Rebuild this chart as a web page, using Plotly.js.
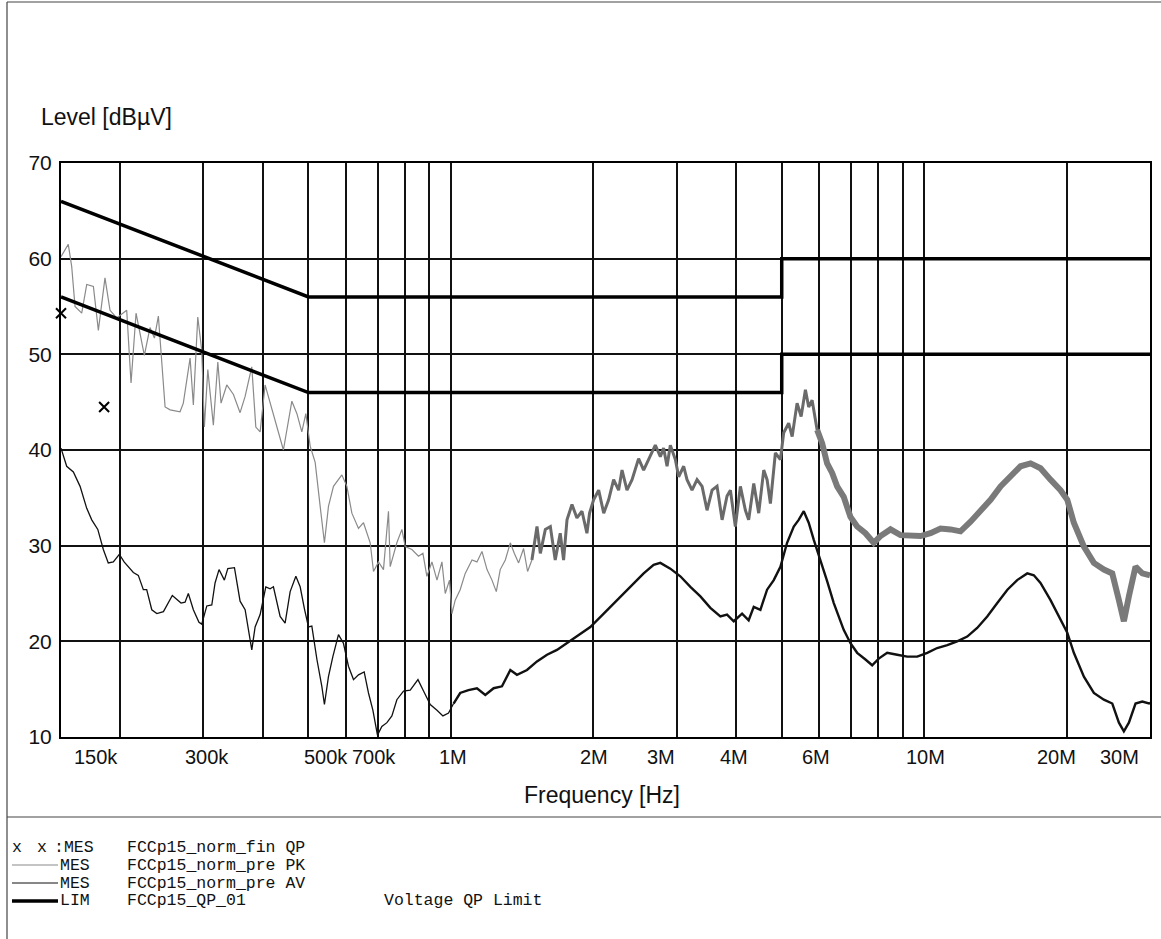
<!DOCTYPE html>
<html>
<head>
<meta charset="utf-8">
<script src="https://cdn.plot.ly/plotly-3.0.1.min.js"></script>
<style>
html,body{margin:0;padding:0;background:#fff;}
#chart{width:1161px;height:939px;}
</style>
</head>
<body>
<div id="chart"></div>
<script>
// ---- Data (frequency in MHz, level in dBµV) ----
const freqPK = [0.150,0.1554,0.1580,0.1606,0.1659,0.1700,0.1756,0.1799,0.1858,0.1904,
0.1967,0.2065,0.2109,0.2161,0.2250,0.2313,0.2363,0.2409,0.2489,0.2551,
0.2677,0.2720,0.2811,0.2856,0.2918,0.2975,0.3013,0.3064,0.3148,0.3217,
0.3268,0.3360,0.3471,0.3585,0.3674,0.3795,0.3870,0.3952,0.4049,0.4216,
0.4426,0.4612,0.4727,0.4841,0.4937,0.5042,0.5166,0.5293,0.5404,0.5511,
0.5647,0.5882,0.6028,0.6176,0.6378,0.6535,0.6752,0.6861,0.7030,0.7202,
0.7380,0.7442,0.7687,0.7878,0.8006,0.8271,0.8541,0.8726,0.8896,0.9117,
0.9344,0.9571,0.9727,0.9932,1.005,1.021,1.046,1.072,1.108,1.135,
1.163,1.192,1.221,1.247,1.271,1.303,1.335,1.361,1.390,1.424,
1.452,1.483,1.520,1.545,1.583,1.622,1.661,1.702,1.730,1.759,
1.802,1.846,1.892,1.938,1.963,2.002,2.052,2.103,2.154,2.207,
2.261,2.299,2.355,2.414,2.492,2.554,2.638,2.703,2.770,2.814,
2.862,2.908,2.980,3.028,3.103,3.154,3.232,3.312,3.394,3.477,
3.563,3.650,3.741,3.832,3.895,3.990,4.089,4.190,4.257,4.364,
4.470,4.581,4.656,4.732,4.848,4.968,5.048,5.172,5.260,5.388,
5.495,5.611,5.701,5.797,5.940,6.087,6.236,6.390,6.547,6.760,
6.986,7.217,7.514,7.823,8.084,8.487,8.911,9.355,9.822,10.31,
10.83,11.37,11.93,12.53,13.16,13.81,14.50,15.22,15.98,16.78,
17.61,18.49,19.41,20.06,20.71,21.75,22.83,23.97,24.97,25.79,
26.42,27.07,27.96,28.90,29.84,30.0];
const levelPK = [60.2,61.5,59.2,55.0,54.3,57.3,57.1,52.5,58.0,54.6,
53.8,54.6,47.0,54.3,49.9,52.8,51.7,54.0,44.5,44.2,
44.0,44.9,49.6,44.7,53.9,50.4,42.4,48.4,42.6,49.2,
44.9,46.8,45.8,43.9,45.6,48.7,42.4,41.9,46.8,43.7,
40.0,45.1,43.8,41.9,43.8,40.4,38.7,34.1,30.3,34.1,
36.2,37.4,36.2,33.4,31.8,32.4,30.3,27.3,28.3,27.5,
33.6,27.8,30.3,31.7,29.9,29.6,28.9,29.2,26.8,28.3,
26.4,28.3,25.0,26.4,22.9,24.3,25.4,27.1,28.5,28.3,
29.4,27.5,26.4,25.2,27.5,28.5,30.3,29.2,28.2,29.7,
27.3,28.5,32.0,29.2,31.7,32.0,28.5,31.3,28.5,32.7,
34.3,32.9,33.6,31.3,33.4,34.8,35.8,33.4,34.8,36.9,
35.8,37.9,35.8,36.9,39.1,37.9,39.3,40.5,39.3,40.2,
38.3,40.5,39.0,37.2,38.3,36.9,35.8,36.9,36.2,33.7,
35.8,36.2,32.7,35.2,35.8,32.0,36.2,33.7,32.7,36.5,
33.4,37.9,36.9,34.4,39.7,39.0,41.8,42.8,41.4,44.9,
43.5,46.3,44.5,45.2,42.1,40.7,38.6,37.6,36.2,35.1,
33.0,32.0,31.3,30.3,31.0,31.7,31.1,31.0,31.0,31.3,
31.8,31.7,31.5,32.5,33.6,34.8,36.2,37.2,38.3,38.6,
38.1,36.9,35.8,34.8,32.4,29.9,28.2,27.5,27.1,24.3,
22.1,24.7,27.8,27.1,26.8,26.9];

const freqAV = [0.150,0.1542,0.1593,0.1646,0.1700,0.1742,0.1794,0.1843,0.1888,0.1935,
0.1992,0.2039,0.2133,0.2185,0.2239,0.2276,0.2333,0.2391,0.2469,0.2578,
0.2690,0.2743,0.2787,0.2856,0.2935,0.2975,0.3049,0.3124,0.3174,0.3236,
0.3321,0.3377,0.3488,0.3585,0.3674,0.3795,0.3857,0.3952,0.4063,0.4149,
0.4216,0.4356,0.4463,0.4574,0.4703,0.4802,0.4903,0.5000,0.5083,0.5210,
0.5336,0.5404,0.5511,0.5630,0.5786,0.5928,0.6074,0.6225,0.6378,0.6557,
0.6696,0.6840,0.6995,0.7146,0.7324,0.7503,0.7687,0.7940,0.8204,0.8518,
0.8752,0.9043,0.9344,0.9618,0.9884,1.013,1.046,1.089,1.135,1.182,
1.231,1.282,1.335,1.379,1.448,1.520,1.596,1.675,1.759,1.846,
1.970,2.103,2.243,2.394,2.554,2.681,2.770,2.908,3.053,3.206,
3.366,3.533,3.710,3.832,3.959,4.123,4.257,4.364,4.507,4.656,
4.810,4.968,5.132,5.302,5.430,5.566,5.701,5.844,6.036,6.236,
6.441,6.760,6.986,7.217,7.514,7.764,8.016,8.351,8.768,9.205,
9.665,10.15,10.65,11.19,11.74,12.33,12.94,13.59,14.27,14.99,
15.72,16.51,17.05,17.61,18.49,19.41,20.06,20.71,21.75,22.83,
23.97,24.97,25.79,26.42,27.07,27.96,28.90,29.84,30.0];
const levelAV = [40.2,38.3,37.7,36.2,33.9,32.7,31.7,29.6,28.2,28.3,
29.1,28.3,27.2,26.9,25.4,25.4,23.3,22.9,23.1,24.8,
24.0,24.1,25.0,23.3,22.0,21.8,23.7,23.8,26.1,27.5,
26.4,27.6,27.7,24.2,23.3,19.1,21.5,22.8,25.7,25.5,
25.7,22.6,21.9,25.2,26.8,25.7,23.4,21.5,21.6,18.1,
15.3,13.4,16.3,18.4,20.7,19.8,17.4,16.0,16.5,16.8,
14.6,12.8,10.2,11.1,11.5,12.2,13.9,14.8,14.9,16.0,
14.8,13.4,12.8,12.2,12.5,13.5,14.6,14.9,15.1,14.4,
15.1,15.3,17.0,16.5,17.0,17.9,18.6,19.1,19.8,20.5,
21.5,22.9,24.3,25.7,27.1,28.0,28.2,27.6,26.8,25.7,
24.7,23.5,22.6,22.8,22.1,22.9,22.2,23.6,23.3,25.4,
26.4,27.8,30.3,32.0,32.7,33.6,32.4,30.6,28.5,26.3,
24.0,21.2,19.8,18.8,18.1,17.5,18.2,18.8,18.6,18.4,
18.4,18.8,19.3,19.6,20.0,20.5,21.4,22.6,24.0,25.4,
26.4,27.1,26.9,26.1,24.3,22.2,20.9,18.8,16.3,14.6,
13.9,13.5,11.5,10.6,11.5,13.5,13.7,13.5,13.6];

const freqQP = [0.150, 0.185];
const levelQP = [54.3, 44.5];

const limFreq = [0.15, 0.5, 5, 5, 30];
const limQP = [66, 56, 56, 60, 60];
const limAV = [56, 46, 46, 50, 50];

const gridFreq = [0.2,0.3,0.4,0.5,0.6,0.7,0.8,0.9,1,2,3,4,5,6,7,8,9,10,20];
const tickText = ['150k','300k','500k','700k','1M','2M','3M','4M','6M','10M','20M','30M'];
const tickTextFreq = [0.178,0.305,0.545,0.688,1.011,2.01,2.78,3.97,5.92,10.07,19.0,25.9];
const yTicks = [10,20,30,40,50,60,70];

const legendRows = [
  {key:'MES', name:'FCCp15_norm_pre PK', note:''},
  {key:'MES', name:'FCCp15_norm_pre AV', note:''},
  {key:'LIM', name:'FCCp15_QP_01', note:'Voltage QP Limit'}
];

// ---- Layout helpers (pixel -> paper) ----
const W = 1161, H = 939, ML = 61, MR = 11, MT = 163, MB = 202;
const PW = W - ML - MR, PH = H - MT - MB;
const px = x => (x - ML) / PW;
const py = y => (H - MB - y) / PH;

const pkSplit1 = freqPK.findIndex(f => f >= 1.48);
const pkSplit2 = freqPK.findIndex(f => f >= 5.94);
const avSplit = freqAV.findIndex(f => f >= 1.0);

const traces = [
  {x: freqPK.slice(0, pkSplit1 + 1), y: levelPK.slice(0, pkSplit1 + 1), mode:'lines',
   line:{color:'#8a8a8a', width:1.2}, hoverinfo:'skip'},
  {x: freqPK.slice(pkSplit1, pkSplit2 + 1), y: levelPK.slice(pkSplit1, pkSplit2 + 1), mode:'lines',
   line:{color:'#6a6a6a', width:3}, hoverinfo:'skip'},
  {x: freqPK.slice(pkSplit2), y: levelPK.slice(pkSplit2), mode:'lines',
   line:{color:'#7a7a7a', width:6}, hoverinfo:'skip'},
  {x: freqAV.slice(0, avSplit + 1), y: levelAV.slice(0, avSplit + 1), mode:'lines',
   line:{color:'#111', width:1.3}, hoverinfo:'skip'},
  {x: freqAV.slice(avSplit), y: levelAV.slice(avSplit), mode:'lines',
   line:{color:'#111', width:2.4}, hoverinfo:'skip'},
  {x: limFreq, y: limQP, mode:'lines', line:{color:'#000', width:3.5}, hoverinfo:'skip'},
  {x: limFreq, y: limAV, mode:'lines', line:{color:'#000', width:3.5}, hoverinfo:'skip'},
  {x: freqQP, y: levelQP, mode:'markers', cliponaxis:false,
   marker:{symbol:'x-thin', size:10, color:'#000', line:{width:2, color:'#000'}}, hoverinfo:'skip'}
];

const sansFont = 'Liberation Sans, Arial, sans-serif';
const monoFont = 'Liberation Mono, Courier New, monospace';

const annotations = [];
tickText.forEach((t, i) => annotations.push({
  text: t, x: Math.log10(tickTextFreq[i]), xref:'x', y: py(757), yref:'paper',
  showarrow:false, xanchor:'center', yanchor:'middle',
  font:{family:sansFont, size:20, color:'#111'}
}));
annotations.push({text:'Frequency [Hz]', x:px(602), y:py(795), xref:'paper', yref:'paper',
  showarrow:false, xanchor:'center', yanchor:'middle', font:{family:sansFont, size:23, color:'#111'}});
annotations.push({text:'Level [dBµV]', x:px(39), y:py(117), xref:'paper', yref:'paper',
  showarrow:false, xanchor:'left', yanchor:'middle', font:{family:sansFont, size:23, color:'#111'}});

// legend rows
const rowY = [847, 865, 883, 901];
const lf = {family:monoFont, size:16.5, color:'#111'};
const legAnn = (text, x, y) => annotations.push({text:text, x:px(x), y:py(y), xref:'paper', yref:'paper',
  showarrow:false, xanchor:'left', yanchor:'middle', borderpad:0, font:lf});
legAnn('x', 11, rowY[0]);
legAnn('x', 36, rowY[0]);
legAnn(':MES', 53, rowY[0]);
legAnn('FCCp15_norm_fin QP', 126, rowY[0]);
legendRows.forEach((r, i) => {
  legAnn(r.key, 59, rowY[i + 1]);
  legAnn(r.name, 126, rowY[i + 1]);
  if (r.note) legAnn(r.note, 383, rowY[i + 1]);
});

const shapes = [
  // outer frame
  {type:'line', xref:'paper', yref:'paper', x0:px(7), x1:px(7), y0:py(939), y1:py(2), line:{color:'#444', width:1.2}},
  {type:'line', xref:'paper', yref:'paper', x0:px(7), x1:px(1161), y0:py(2), y1:py(2), line:{color:'#444', width:1.2}},
  {type:'line', xref:'paper', yref:'paper', x0:px(7), x1:px(1161), y0:py(817), y1:py(817), line:{color:'#444', width:1.2}},
  // legend samples
  {type:'line', xref:'paper', yref:'paper', x0:px(12), x1:px(58), y0:py(rowY[1]), y1:py(rowY[1]), line:{color:'#8a8a8a', width:1.2}},
  {type:'line', xref:'paper', yref:'paper', x0:px(12), x1:px(58), y0:py(rowY[2]), y1:py(rowY[2]), line:{color:'#111', width:1.2}},
  {type:'line', xref:'paper', yref:'paper', x0:px(12), x1:px(58), y0:py(rowY[3]), y1:py(rowY[3]), line:{color:'#000', width:3.5}}
];

const layout = {
  width: W, height: H,
  margin: {l:ML, r:MR, t:MT, b:MB, pad:0},
  paper_bgcolor:'#fff', plot_bgcolor:'#fff',
  showlegend:false,
  xaxis:{
    type:'log', range:[Math.log10(0.15), Math.log10(30)],
    tickmode:'array', tickvals:gridFreq, showticklabels:false, ticks:'',
    showgrid:true, gridcolor:'#111', gridwidth:2,
    showline:true, linecolor:'#000', linewidth:2, mirror:true, zeroline:false, fixedrange:true
  },
  yaxis:{
    range:[10,70], tickmode:'array', tickvals:yTicks, ticks:'',
    showgrid:true, gridcolor:'#111', gridwidth:2,
    showline:true, linecolor:'#000', linewidth:2, mirror:true, zeroline:false,
    tickfont:{family:sansFont, size:21, color:'#111'}, ticklabelstandoff:3, fixedrange:true
  },
  annotations: annotations,
  shapes: shapes
};

Plotly.newPlot('chart', traces, layout, {displayModeBar:false, staticPlot:true});
</script>
</body>
</html>
